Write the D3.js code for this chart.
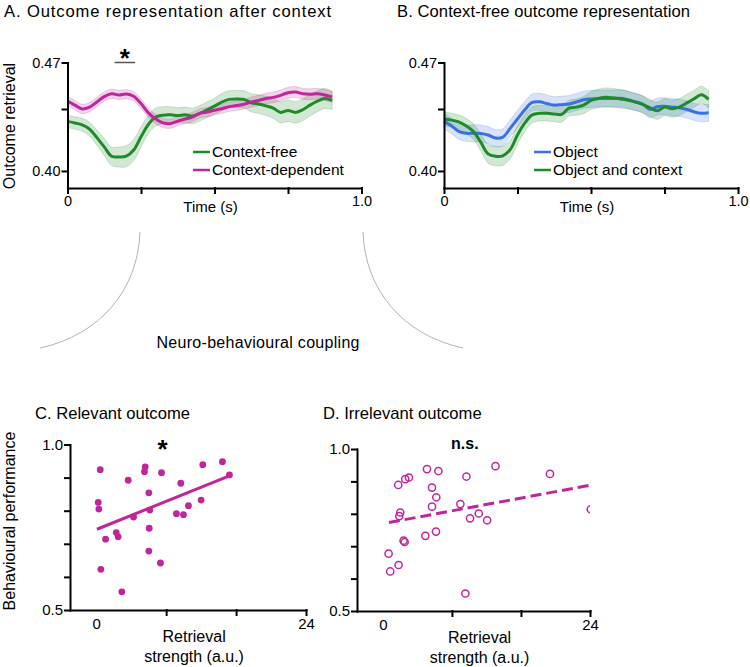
<!DOCTYPE html>
<html>
<head>
<meta charset="utf-8">
<script src="https://cdn.jsdelivr.net/npm/d3@7"></script>
<style>
  body { margin: 0; background: #fff; }
  svg { display: block; font-family: "Liberation Sans", Arial, Helvetica, sans-serif; }
  .axis path, .axis line { stroke: #000; stroke-width: 2; stroke-linecap: square; }
  .axis text { font-size: 14.5px; fill: #000; font-family: "Liberation Sans", Arial, sans-serif; }
  .title { font-size: 16.6px; }
  .label { font-size: 16px; }
  .legend { font-size: 15.5px; }
</style>
</head>
<body>
<script>
// time axis (s) of the decoding curves
var timePoints = [0, 0.025, 0.05, 0.075, 0.1, 0.125, 0.15, 0.175, 0.2, 0.225, 0.25, 0.275, 0.3, 0.325, 0.35,
  0.375, 0.4, 0.425, 0.45, 0.475, 0.5, 0.525, 0.55, 0.575, 0.6, 0.625, 0.65, 0.675, 0.7, 0.725, 0.75,
  0.775, 0.8, 0.825, 0.85, 0.875, 0.9];

// panel A
var contextFree = [0.432, 0.431, 0.4298, 0.427, 0.4215, 0.4155, 0.4095, 0.409, 0.4095, 0.4135, 0.422, 0.430,
  0.4348, 0.436, 0.4362, 0.4358, 0.4362, 0.4355, 0.4372, 0.4395, 0.4418, 0.4445, 0.4462, 0.4465, 0.4462,
  0.444, 0.4432, 0.442, 0.4405, 0.4378, 0.439, 0.4378, 0.4395, 0.4425, 0.445, 0.4468, 0.4455];
var contextFreeSem = [0.004, 0.004, 0.0042, 0.0045, 0.005, 0.0055, 0.006, 0.0065, 0.0068, 0.0068, 0.0065, 0.006,
  0.0058, 0.0055, 0.0052, 0.005, 0.005, 0.005, 0.005, 0.005, 0.0052, 0.0055, 0.0055, 0.0055, 0.0055,
  0.0058, 0.006, 0.0062, 0.0065, 0.0068, 0.007, 0.007, 0.007, 0.007, 0.0068, 0.0065, 0.006];
var contextDependent = [0.4452, 0.4425, 0.440, 0.4412, 0.4445, 0.448, 0.4498, 0.449, 0.4496, 0.4482, 0.4435, 0.4375,
  0.4335, 0.431, 0.4305, 0.4322, 0.4335, 0.4348, 0.4372, 0.438, 0.4392, 0.4402, 0.4415, 0.4422, 0.443,
  0.4445, 0.4455, 0.4468, 0.4475, 0.4488, 0.4505, 0.451, 0.4498, 0.4495, 0.4498, 0.449, 0.4478];
var contextDependentSem = [0.003, 0.003, 0.003, 0.003, 0.003, 0.003, 0.003, 0.003, 0.003, 0.003, 0.003, 0.003,
  0.003, 0.003, 0.003, 0.003, 0.003, 0.003, 0.003, 0.003, 0.003, 0.003, 0.003, 0.003, 0.003,
  0.0032, 0.0033, 0.0034, 0.0035, 0.0035, 0.0035, 0.0035, 0.0035, 0.0035, 0.0035, 0.0035, 0.0035];
var sigWindow = [0.16, 0.23];

// panel B
var objectOnly = [0.432, 0.4292, 0.4255, 0.4243, 0.4243, 0.4242, 0.4232, 0.4212, 0.4218, 0.4275, 0.4335, 0.4395,
  0.4442, 0.4446, 0.4435, 0.4425, 0.4428, 0.4432, 0.4445, 0.446, 0.4465, 0.4467, 0.4467, 0.4467, 0.4469,
  0.446, 0.4447, 0.4432, 0.4398, 0.4415, 0.4418, 0.4412, 0.4408, 0.4398, 0.4382, 0.4372, 0.4376];
var objectOnlySem = [0.005, 0.005, 0.005, 0.0052, 0.0055, 0.0055, 0.0055, 0.0055, 0.0055, 0.0055, 0.0055, 0.0055,
  0.0055, 0.0055, 0.0055, 0.0055, 0.0055, 0.0055, 0.0055, 0.0055, 0.0055, 0.0055, 0.0055, 0.0055, 0.0055,
  0.0055, 0.0055, 0.0055, 0.0055, 0.0055, 0.0055, 0.0055, 0.0055, 0.0055, 0.0055, 0.0055, 0.0055];
var objectContext = [0.4335, 0.4328, 0.4317, 0.4292, 0.4255, 0.4185, 0.411, 0.4095, 0.4098, 0.4138, 0.4232, 0.431,
  0.4362, 0.4372, 0.4372, 0.4368, 0.4365, 0.4405, 0.4412, 0.4425, 0.4455, 0.4468, 0.4476, 0.4472, 0.4465,
  0.4458, 0.4445, 0.443, 0.4408, 0.4388, 0.4412, 0.4402, 0.4412, 0.4438, 0.4465, 0.4492, 0.4462];
var objectContextSem = [0.0045, 0.0045, 0.0045, 0.0048, 0.005, 0.0055, 0.006, 0.0062, 0.0062, 0.006, 0.0058, 0.0055,
  0.0052, 0.005, 0.005, 0.005, 0.005, 0.005, 0.0052, 0.0055, 0.0058, 0.006, 0.006, 0.006, 0.006,
  0.0058, 0.0055, 0.0055, 0.0055, 0.0055, 0.0055, 0.0055, 0.0055, 0.0055, 0.0055, 0.0055, 0.0055];

var timeTicks = [0, 0.25, 0.5, 0.75, 1.0];
var retrievalTicks = [0.40, 0.44, 0.47];

// panels C and D (one point per participant)
var relevantX = [0.46, 0.23, 0.30, 1.07, 0.53, 3.66, 2.29, 2.51, 2.93, 4.27, 5.6, 5.52, 6.02, 6.13, 6.06, 6.02,
  7.47, 7.35, 9.18, 9.98, 9.68, 10.55, 12.0, 12.19, 14.44, 15.24];
var relevantY = [0.924, 0.825, 0.805, 0.714, 0.623, 0.892, 0.734, 0.721, 0.555, 0.781, 0.932, 0.918, 0.854, 0.802,
  0.747, 0.678, 0.915, 0.642, 0.791, 0.788, 0.883, 0.815, 0.832, 0.939, 0.948, 0.908];
var relevantFit = [[0.08, 0.744], [15.3, 0.906]];

var irrelevantX = [0.66, 0.85, 1.82, 1.78, 2.01, 1.90, 2.40, 2.52, 2.59, 3.02, 4.92, 5.11, 5.69, 5.69, 6.19, 6.15,
  6.43, 8.98, 9.68, 9.56, 10.10, 11.11, 12.08, 13.05, 19.36, 24.08];
var irrelevantY = [0.677, 0.622, 0.642, 0.889, 0.804, 0.793, 0.717, 0.713, 0.907, 0.912, 0.732, 0.938, 0.881, 0.822,
  0.851, 0.745, 0.932, 0.830, 0.915, 0.554, 0.786, 0.801, 0.780, 0.947, 0.923, 0.814];
var irrelevantFit = [[0.7, 0.773], [24, 0.888]];

var strengthTicks = [0, 8, 16, 24];
var performanceTicks = [0.5, 0.6, 0.7, 0.8, 0.9, 1.0];

var green = "#1e8a2a", magenta = "#c0269c", blue = "#3b70e4";

var svg = d3.select("body").append("svg")
  .attr("width", 750)
  .attr("height", 667);

function timePanel(left, right, series, legendX, legendY) {
  var x = d3.scaleLinear().domain([0, 1]).range([left, right]);
  var y = d3.scaleLinear().domain([0.389, 0.47]).range([188, 62.5]);
  var g = svg.append("g");

  series.forEach(function(s) {
    var band = d3.area()
      .x(function(d, i) { return x(timePoints[i]); })
      .y0(function(d, i) { return y(d - s.sem[i]); })
      .y1(function(d, i) { return y(d + s.sem[i]); })
      .curve(d3.curveCatmullRom);
    g.append("path").datum(s.mean)
      .attr("d", band)
      .attr("fill", s.color)
      .attr("fill-opacity", 0.2)
      .attr("stroke", s.color)
      .attr("stroke-opacity", 0.25)
      .attr("stroke-width", 0.8);
  });

  series.forEach(function(s) {
    var line = d3.line()
      .x(function(d, i) { return x(timePoints[i]); })
      .y(function(d) { return y(d); })
      .curve(d3.curveCatmullRom);
    g.append("path").datum(s.mean)
      .attr("d", line)
      .attr("fill", "none")
      .attr("stroke", s.color)
      .attr("stroke-width", 3);
  });

  g.append("g").attr("class", "axis")
    .attr("transform", "translate(0,188)")
    .call(d3.axisBottom(x).tickValues(timeTicks).tickSize(5).tickSizeOuter(0).tickPadding(3)
      .tickFormat(function(d) { return d === 0 ? "0" : (d === 1 ? "1.0" : ""); }));

  g.append("g").attr("class", "axis")
    .attr("transform", "translate(" + left + ",0)")
    .call(d3.axisLeft(y).tickValues(retrievalTicks).tickSize(5).tickSizeOuter(0).tickPadding(2)
      .tickFormat(function(d) { return d === 0.44 ? "" : d3.format(".2f")(d); }));

  g.append("text").attr("class", "label")
    .attr("x", (left + right) / 2 - 4).attr("y", 212)
    .attr("text-anchor", "middle")
    .style("font-size", "15px")
    .text("Time (s)");

  var leg = g.selectAll(".leg").data(series).enter().append("g")
    .attr("transform", function(d, i) { return "translate(" + legendX + "," + (legendY + i * 18) + ")"; });
  leg.append("line").attr("x1", 0).attr("x2", 17)
    .attr("stroke", function(d) { return d.color; }).attr("stroke-width", 2.5);
  leg.append("text").attr("class", "legend")
    .attr("x", 19).attr("dy", "0.35em")
    .text(function(d) { return d.name; });

  return { x: x, y: y, g: g };
}

var panelA = timePanel(67.5, 361.5, [
  { name: "Context-free", mean: contextFree, sem: contextFreeSem, color: green },
  { name: "Context-dependent", mean: contextDependent, sem: contextDependentSem, color: magenta }
], 193, 152);

// significance marker
panelA.g.append("line")
  .attr("x1", panelA.x(sigWindow[0])).attr("x2", panelA.x(sigWindow[1]))
  .attr("y1", 62.5).attr("y2", 62.5)
  .attr("stroke", "#555").attr("stroke-width", 1.5);
panelA.g.append("text")
  .attr("x", panelA.x((sigWindow[0] + sigWindow[1]) / 2)).attr("y", 67)
  .attr("text-anchor", "middle").attr("font-size", 26).attr("font-weight", "bold")
  .text("*");

panelA.g.append("text").attr("class", "label")
  .attr("transform", "translate(15,126) rotate(-90)")
  .attr("text-anchor", "middle")
  .text("Outcome retrieval");

var panelB = timePanel(444, 738, [
  { name: "Object", mean: objectOnly, sem: objectOnlySem, color: blue },
  { name: "Object and context", mean: objectContext, sem: objectContextSem, color: green }
], 534, 152);

svg.append("text").attr("class", "title").attr("x", 4).attr("y", 17)
  .attr("textLength", 327).attr("lengthAdjust", "spacing")
  .text("A. Outcome representation after context");
svg.append("text").attr("class", "title").attr("x", 397).attr("y", 17)
  .attr("textLength", 293).attr("lengthAdjust", "spacing")
  .text("B. Context-free outcome representation");

// connector arcs
svg.append("path")
  .attr("d", "M140,232 C138,290 100,335 40,348")
  .attr("fill", "none").attr("stroke", "#aaa").attr("stroke-width", 0.9);
svg.append("path")
  .attr("d", "M363,232 C365,290 403,335 463,348")
  .attr("fill", "none").attr("stroke", "#aaa").attr("stroke-width", 0.9);
svg.append("text").attr("class", "label")
  .attr("x", 258).attr("y", 348).attr("text-anchor", "middle")
  .attr("textLength", 203).attr("lengthAdjust", "spacing")
  .text("Neuro-behavioural coupling");

function scatterPanel(left, right, top, bottom, xs, ys, fit, hollow, id) {
  var x = d3.scaleLinear().domain([-3, 24]).range([left, right]);
  var y = d3.scaleLinear().domain([0.5, 1.0]).range([bottom, top]);
  var g = svg.append("g");

  svg.append("clipPath").attr("id", id)
    .append("rect").attr("x", left).attr("y", top - 10)
    .attr("width", right - left).attr("height", bottom - top + 10);

  var plot = g.append("g").attr("clip-path", "url(#" + id + ")");

  plot.append("path").datum(fit)
    .attr("d", d3.line().x(function(d) { return x(d[0]); }).y(function(d) { return y(d[1]); }))
    .attr("stroke", magenta).attr("stroke-width", 3).attr("fill", "none")
    .attr("stroke-dasharray", hollow ? "11,5" : null);

  plot.selectAll("circle").data(xs).enter().append("circle")
    .attr("cx", function(d) { return x(d); })
    .attr("cy", function(d, i) { return y(ys[i]); })
    .attr("r", hollow ? 3.6 : 3.4)
    .attr("fill", hollow ? "none" : magenta)
    .attr("stroke", hollow ? magenta : "none")
    .attr("stroke-width", 1.5);

  var xa = g.append("g").attr("class", "axis")
    .attr("transform", "translate(0," + bottom + ")")
    .call(d3.axisBottom(x).tickValues(strengthTicks).tickSize(5).tickSizeOuter(0).tickPadding(3)
      .tickFormat(function(d) { return d === 0 || d === 24 ? String(d) : ""; }));
  xa.selectAll(".tick").filter(function(d) { return d === 0; }).select("line").remove();
  xa.selectAll("text").style("font-size", "15px");

  var ya = g.append("g").attr("class", "axis")
    .attr("transform", "translate(" + left + ",0)")
    .call(d3.axisLeft(y).tickValues(performanceTicks).tickSize(5).tickSizeOuter(0).tickPadding(2)
      .tickFormat(function(d) { return d === 0.5 || d === 1.0 ? d3.format(".1f")(d) : ""; }));
  ya.selectAll("text").style("font-size", "15px");

  var cx = x(11.2);
  g.append("text").attr("class", "label").attr("x", cx).attr("y", bottom + 32)
    .attr("text-anchor", "middle").text("Retrieval");
  g.append("text").attr("class", "label").attr("x", cx).attr("y", bottom + 52)
    .attr("text-anchor", "middle").text("strength (a.u.)");

  return { x: x, y: y, g: g };
}

var panelC = scatterPanel(70, 306, 444.5, 610, relevantX, relevantY, relevantFit, false, "clipC");
panelC.g.append("text")
  .attr("x", panelC.x(7.6)).attr("y", 458)
  .attr("text-anchor", "middle").attr("font-size", 26).attr("font-weight", "bold")
  .text("*");
panelC.g.append("text").attr("class", "label")
  .attr("transform", "translate(15,521) rotate(-90)")
  .attr("text-anchor", "middle")
  .text("Behavioural performance");

var panelD = scatterPanel(357, 590, 449, 611, irrelevantX, irrelevantY, irrelevantFit, true, "clipD");
panelD.g.append("text")
  .attr("x", panelD.x(9.5)).attr("y", 449)
  .attr("text-anchor", "middle").attr("font-size", 16).attr("font-weight", "bold")
  .text("n.s.");

svg.append("text").attr("class", "title").attr("x", 35).attr("y", 419)
  .text("C. Relevant outcome");
svg.append("text").attr("class", "title").attr("x", 323).attr("y", 419)
  .text("D. Irrelevant outcome");
</script>
</body>
</html>
